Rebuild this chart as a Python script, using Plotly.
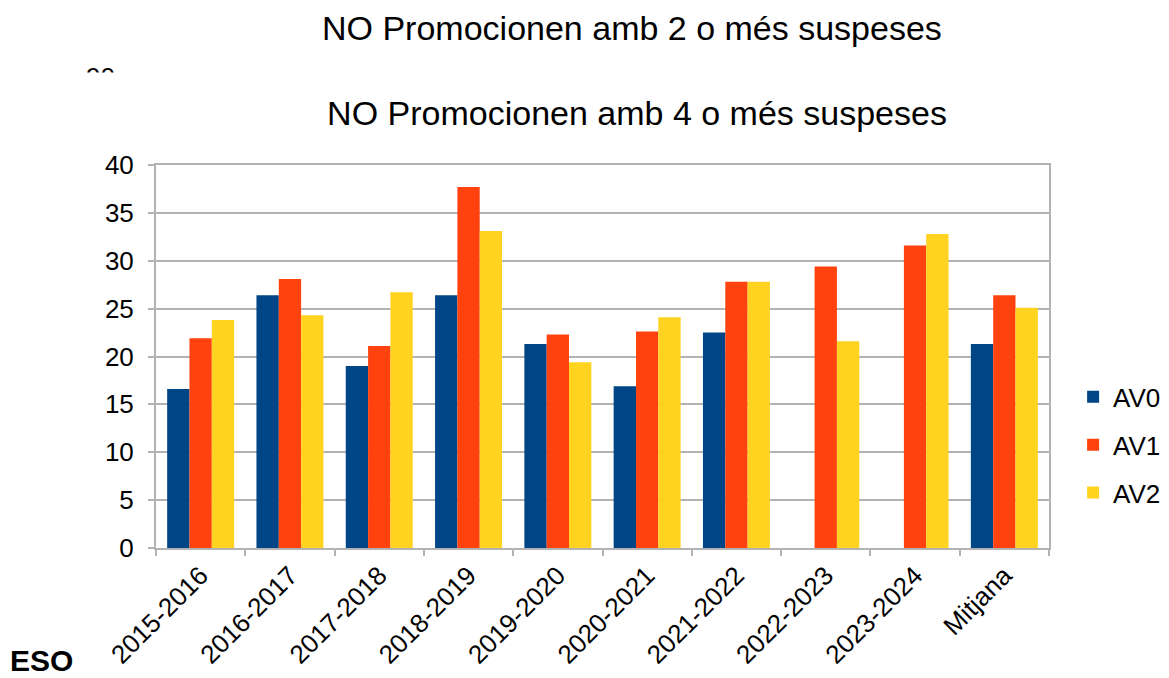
''' NO Promocionen amb 4 o més suspeses - ESO '''
import plotly.graph_objects as go

cursos = ['2015-2016', '2016-2017', '2017-2018', '2018-2019', '2019-2020',
          '2020-2021', '2021-2022', '2022-2023', '2023-2024', 'Mitjana']
av0 = [16.6, 26.4, 19.0, 26.4, 21.3, 16.9, 22.5, None, None, 21.3]
av1 = [21.9, 28.1, 21.1, 37.7, 22.3, 22.6, 27.8, 29.4, 31.6, 26.4]
av2 = [23.8, 24.3, 26.7, 33.1, 19.4, 24.1, 27.8, 21.6, 32.8, 25.1]

series = [('AV0', av0, '#004586'), ('AV1', av1, '#FF420E'), ('AV2', av2, '#FFD320')]

FONT = 'Liberation Sans, Arial, sans-serif'
GRID = '#b3b3b3'

# page body has an 8px margin, so the figure is drawn 8px in from the corner
OFF = 8

fig = go.Figure()
for name, vals, color in series:
    fig.add_trace(
        go.Bar(
            x=cursos,
            y=vals,
            name=name,
            legendgroup=name,
            marker=dict(color=color, line=dict(width=0))
        )
    )

fig.update_layout(
    width=1169 - OFF,
    height=678 - OFF,
    barmode='group',
    bargap=0.25,
    bargroupgap=0,
    paper_bgcolor='white',
    plot_bgcolor='white',
    font=dict(family=FONT, size=26, color='black'),
    margin=dict(l=156 - OFF, r=120, t=165 - OFF, b=130, autoexpand=False),
    title=dict(
        text='NO Promocionen amb 4 o més suspeses',
        font=dict(size=34, family=FONT, color='black'),
        x=(637 - OFF) / (1169 - OFF), xanchor='center',
        y=1 - (113 - OFF) / (678 - OFF), yanchor='middle'
    ),
    legend=dict(
        x=1.027, xanchor='left',
        y=0.269, yanchor='middle',
        font=dict(size=26, family=FONT),
        traceorder='grouped',
        tracegroupgap=11,
        bgcolor='rgba(0,0,0,0)'
    ),
    showlegend=True
)

fig.update_yaxes(
    range=[0, 40],
    dtick=5,
    showgrid=True,
    gridcolor=GRID,
    gridwidth=1.5,
    showline=True,
    linecolor=GRID,
    linewidth=2,
    mirror=True,
    ticks='outside',
    ticklen=6,
    tickcolor=GRID,
    tickwidth=2,
    ticklabelstandoff=9,
    zeroline=False,
    automargin=False,
    tickfont=dict(size=26, family=FONT)
)

fig.update_xaxes(
    showline=True,
    linecolor=GRID,
    linewidth=2,
    mirror=True,
    ticks='outside',
    tickson='boundaries',
    ticklen=6,
    tickcolor=GRID,
    tickwidth=2,
    tickangle=-45,
    automargin=False,
    tickfont=dict(size=26, family=FONT)
)

# chart behind this one: its title and a clipped axis label
fig.add_annotation(
    text='NO Promocionen amb 2 o més suspeses',
    xref='paper', yref='paper',
    x=(632 - 156) / 893, y=(548 - 28) / 383,
    xanchor='center', yanchor='middle',
    showarrow=False,
    font=dict(size=34, family=FONT, color='black')
)
fig.add_annotation(
    text='90',
    xref='paper', yref='paper',
    x=(100 - 156) / 893, y=(548 - 77) / 383,
    xanchor='center', yanchor='middle',
    showarrow=False,
    font=dict(size=26, family=FONT, color='black')
)
fig.add_annotation(
    text=' ',
    xref='paper', yref='paper',
    x=(100 - 156) / 893, y=(548 - 72) / 383,
    xanchor='center', yanchor='top',
    width=80, height=30,
    bgcolor='white',
    showarrow=False
)
fig.add_annotation(
    text='<b>ESO</b>',
    xref='paper', yref='paper',
    x=(8 - 156) / 893, y=(548 - 660) / 383,
    xanchor='left', yanchor='middle',
    showarrow=False,
    font=dict(size=30, family=FONT, color='black')
)

fig.write_html('out.html')
